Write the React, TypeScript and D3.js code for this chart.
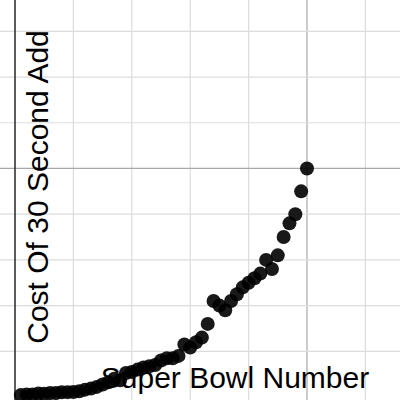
import React from "react";
import * as d3 from "d3";

const superBowlNumbers: number[] = Array.from({ length: 50 }, (_, i) => i + 1);
const adCostMillions: number[] = [
  0.042, 0.054, 0.055, 0.078, 0.072, 0.086, 0.088, 0.1035, 0.107, 0.11,
  0.125, 0.162, 0.185, 0.222, 0.275, 0.324, 0.4, 0.368, 0.525, 0.55,
  0.6, 0.645, 0.675, 0.7, 0.8, 0.85, 0.85, 0.9, 1.15, 1.085,
  1.2, 1.3, 1.6, 2.1, 2.0, 1.9, 2.1, 2.25, 2.4, 2.5,
  2.6, 2.7, 3.0, 2.8, 3.1, 3.5, 3.8, 4.0, 4.5, 5.0,
];
const xGridTicks: number[] = [10, 20, 30, 40, 50, 60];
const yGridTicks: number[] = [1, 2, 3, 4, 5, 6, 7, 8];
const xMajor = 50;
const yMajor = 5;
const xLabel = "Super Bowl Number";
const yLabel = "Cost Of 30 Second Add";

const W = 400;
const H = 400;

export default function App() {
  const x = d3.scaleLinear().domain([-15 / 5.84, 385 / 5.84]).range([0, W]);
  const y = d3.scaleLinear().domain([-3 / 46.4, 403 / 46.4]).range([H, 0]);
  const font = "'Liberation Sans', Arial, sans-serif";
  return (
    <svg
      width={W}
      height={H}
      style={{ position: "absolute", left: 0, top: 0, background: "#fff" }}
    >
      <rect x={0} y={0} width={W} height={H} fill="#fff" />
      {xGridTicks.map((t) => (
        <line
          key={"gx" + t}
          x1={x(t)}
          x2={x(t)}
          y1={0}
          y2={H}
          stroke={t === xMajor ? "#a8a8a8" : "#dcdcdc"}
          strokeWidth={1.2}
        />
      ))}
      {yGridTicks.map((t) => (
        <line
          key={"gy" + t}
          x1={0}
          x2={W}
          y1={y(t)}
          y2={y(t)}
          stroke={t === yMajor ? "#a8a8a8" : "#dcdcdc"}
          strokeWidth={1.2}
        />
      ))}
      <line x1={x(0)} x2={x(0)} y1={0} y2={H} stroke="#333" strokeWidth={1.6} />
      <text
        x={235}
        y={388}
        textAnchor="middle"
        fontFamily={font}
        fontSize={30}
        fill="#000"
      >
        {xLabel}
      </text>
      <text
        transform="translate(48,187) rotate(-90)"
        textAnchor="middle"
        fontFamily={font}
        fontSize={30}
        fill="#000"
      >
        {yLabel}
      </text>
      {superBowlNumbers.map((n, i) => (
        <circle
          key={"p" + n}
          cx={x(n)}
          cy={y(adCostMillions[i])}
          r={7}
          fill="#000"
          fillOpacity={0.9}
        />
      ))}
    </svg>
  );
}
